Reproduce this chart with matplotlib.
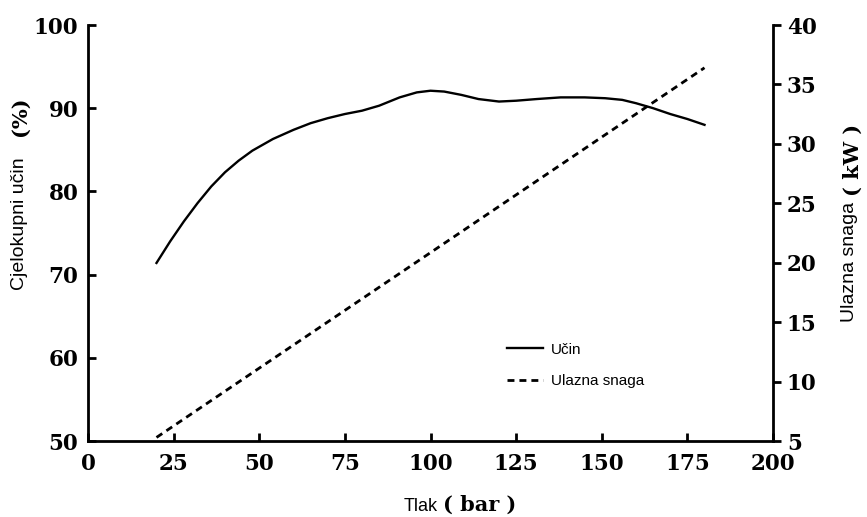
import matplotlib.pyplot as plt
from matplotlib.lines import Line2D

# Ucin (overall efficiency, %)
tlak_ucin = [20, 24, 28, 32, 36, 40, 44, 48, 54, 60, 65, 70, 75, 80, 85, 91, 96, 100, 104,
             109, 114, 120, 125, 131, 138, 145, 151, 156, 160, 165, 170, 175, 180]
ucin = [71.4, 74.0, 76.4, 78.6, 80.6, 82.3, 83.7, 84.9, 86.3, 87.4, 88.2, 88.8, 89.3, 89.7,
        90.3, 91.3, 91.9, 92.1, 92.0, 91.6, 91.1, 90.8, 90.9, 91.1, 91.3, 91.3, 91.2, 91.0,
        90.6, 90.0, 89.3, 88.7, 88.0]

# Ulazna snaga (input power, kW)
tlak_snaga = [20, 180]
snaga = [5.3, 36.4]

serif = "DejaVu Serif"
sans = "Liberation Sans"

fig = plt.figure(figsize=(8.67, 5.17), dpi=100)
ax = fig.add_axes([88 / 867, 1 - 441 / 517, 685 / 867, 416 / 517])
ax2 = ax.twinx()

ax.plot(tlak_ucin, ucin, color="black", lw=1.7)
ax2.plot(tlak_snaga, snaga, color="black", lw=2.0, linestyle=(0, (2.5, 1.8)))

ax.set_xlim(0, 200)
ax.set_ylim(50, 100)
ax2.set_ylim(5, 40)
ax.set_xticks(range(0, 201, 25))
ax.set_yticks(range(50, 101, 10))
ax2.set_yticks(range(5, 41, 5))

for a in (ax, ax2):
    a.spines["top"].set_visible(False)
    for s in a.spines.values():
        s.set_linewidth(2)
ax.spines["right"].set_visible(False)
ax2.spines["left"].set_visible(False)
ax2.spines["bottom"].set_visible(False)

ax.tick_params(axis="both", direction="in", length=6, width=2, pad=7)
ax.tick_params(axis="x", pad=9)
ax2.tick_params(axis="y", direction="out", length=6, width=2, pad=4)
for lab in ax.get_xticklabels() + ax.get_yticklabels() + ax2.get_yticklabels():
    lab.set_fontfamily(serif)
    lab.set_fontweight("bold")
    lab.set_fontsize(15.5)

# Axis labels: sans text plus bold serif unit
fig.text(20 / 867, 1 - 224 / 517, "Cjelokupni učin", rotation=90, ha="center", va="center",
         family=sans, fontsize=14)
fig.text(20 / 867, 1 - 116 / 517, "(%)", rotation=90, ha="center", va="center",
         family=serif, fontweight="bold", fontsize=15)
fig.text(850 / 867, 1 - 262 / 517, "Ulazna snaga", rotation=90, ha="center", va="center",
         family=sans, fontsize=14)
fig.text(853 / 867, 1 - 160 / 517, "( kW )", rotation=90, ha="center", va="center",
         family=serif, fontweight="bold", fontsize=15)
fig.text(438 / 867, 1 - 511 / 517, "Tlak", ha="right", va="baseline", family=sans, fontsize=13)
fig.text(443 / 867, 1 - 511 / 517, "( bar )", ha="left", va="baseline", family=serif,
         fontweight="bold", fontsize=15)

handles = [Line2D([], [], color="black", lw=1.7),
           Line2D([], [], color="black", lw=2.0, linestyle=(0, (2.5, 1.8)))]
ax.legend(handles, ["Učin", "Ulazna snaga"], loc="upper left",
          bbox_to_anchor=(493 / 867, 1 - 329 / 517), bbox_transform=fig.transFigure,
          frameon=False, prop={"family": sans, "size": 11}, handlelength=2.4,
          handletextpad=0.5, labelspacing=1.15)

fig.savefig("out.png", dpi=100)
